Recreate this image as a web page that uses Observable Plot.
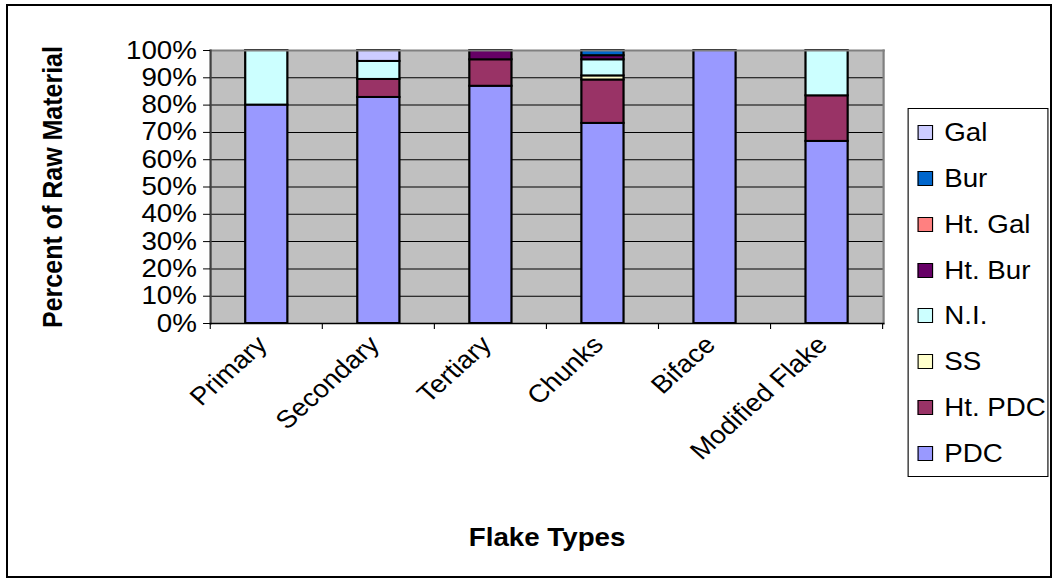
<!DOCTYPE html>
<html><head><meta charset="utf-8">
<script src="https://cdn.jsdelivr.net/npm/d3@7"></script>
<script src="https://cdn.jsdelivr.net/npm/@observablehq/plot@0.6"></script>
<style>
body{margin:0;background:#fff;}
#outer{position:relative;width:1054px;height:581px;overflow:hidden;background:#fff;}
#border{position:absolute;left:6px;top:4px;width:1046px;height:574px;border:2px solid #000;box-sizing:border-box;pointer-events:none;}
#inner{position:absolute;left:0;top:0;width:950px;height:581px;transform:scaleX(1.1095);transform-origin:0 0;font-family:"Liberation Sans",Arial,sans-serif;}
#legend{position:absolute;left:818px;top:108px;width:127px;height:369px;border:1px solid #000;box-sizing:border-box;background:#fff;}
.item{position:absolute;left:8px;height:26px;display:flex;align-items:center;font-size:25px;color:#000;white-space:nowrap;}
.sw{width:14px;height:15px;border:1.5px solid #000;box-sizing:border-box;margin-right:10px;flex:none;}
</style></head>
<body>
<div id="outer">
  <div id="inner"><div id="chart"></div><div id="legend"></div></div>
  <div id="border"></div>
</div>
<script>
// ---- data ----
const categories = ["Primary", "Secondary", "Tertiary", "Chunks", "Biface", "Modified Flake"];
const materials = ["PDC", "Ht. PDC", "SS", "N.I.", "Ht. Bur", "Ht. Gal", "Bur", "Gal"];
const colors = ["#9999FF", "#993366", "#FFFFCC", "#CCFFFF", "#660066", "#FF8080", "#0066CC", "#CCCCFF"];
const pdc   = [80, 82.8, 86.9, 73.3, 100, 66.7];
const htPdc = [0, 6.6, 9.7, 15.9, 0, 16.7];
const ss    = [0, 0, 0, 1.5, 0, 0];
const ni    = [20, 6.6, 0, 5.9, 0, 16.6];
const htBur = [0, 0, 3.4, 1.5, 0, 0];
const htGal = [0, 0, 0, 0, 0, 0];
const bur   = [0, 0, 0, 1.9, 0, 0];
const gal   = [0, 4.0, 0, 0, 0, 0];
const yTicks = [0, 10, 20, 30, 40, 50, 60, 70, 80, 90, 100];
const yTitle = "Percent of Raw Material";
const xTitle = "Flake Types";

const series = [pdc, htPdc, ss, ni, htBur, htGal, bur, gal];
const data = [];
materials.forEach((m, i) => categories.forEach((c, j) => {
  if (series[i][j] > 0) data.push({category: c, material: m, value: series[i][j]});
}));

const boundaryTicks = (index, scales, values, dims) => {
  const x = scales.x;
  const n = categories.length;
  const plotW = dims.width - dims.marginLeft - dims.marginRight;
  const step = typeof x.step === "function" ? x.step() : plotW / n;
  const bw = typeof x.bandwidth === "function" ? x.bandwidth() : 0;
  const pos = categories.map(c => x(c) + bw / 2 - step / 2);
  pos.push(x(categories[n - 1]) + bw / 2 + step / 2);
  const y0 = dims.height - dims.marginBottom;
  const g = d3.create("svg:g");
  g.selectAll("line").data(pos).join("line")
    .attr("x1", d => d).attr("x2", d => d)
    .attr("y1", y0).attr("y2", y0 + 6)
    .attr("stroke", "#000").attr("stroke-width", 1);
  return g.node();
};

const chart = Plot.plot({
  width: 950,
  height: 581,
  marginLeft: 189.3,
  marginRight: 154.1,
  marginTop: 50,
  marginBottom: 258,
  style: {fontFamily: '"Liberation Sans", Arial, sans-serif', fontSize: "25px", color: "#000", background: "transparent", overflow: "visible"},
  x: {domain: categories, paddingInner: 0.62, paddingOuter: 0.31, align: 0.5, label: null},
  y: {domain: [0, 100], label: null},
  color: {domain: materials, range: colors},
  marks: [
    Plot.frame({fill: "#C0C0C0", stroke: "none"}),
    Plot.ruleY(yTicks, {stroke: "#000", strokeWidth: 1}),
    Plot.barY(data, {x: "category", y: "value", fill: "material", stroke: "#000", strokeWidth: 2, order: materials}),
    Plot.frame({anchor: "top", stroke: "#808080", strokeWidth: 2}),
    Plot.frame({anchor: "right", stroke: "#808080", strokeWidth: 2}),
    Plot.frame({anchor: "left", stroke: "#404040", strokeWidth: 2}),
    Plot.frame({anchor: "bottom", stroke: "#000", strokeWidth: 1.5}),
    Plot.axisY({ticks: yTicks, tickFormat: d => d + "%", tickSize: 6.3, tickPadding: 6, fontSize: 25, label: null}),
    Plot.axisX({tickSize: 0, tickRotate: -45, tickPadding: 17, dx: -4, fontSize: 25, label: null}),
    boundaryTicks,
    Plot.text([yTitle], {frameAnchor: "left", dx: -141.5, rotate: -90, textAnchor: "middle", fontWeight: "bold", fontSize: 25, text: d => d}),
    Plot.text([xTitle], {frameAnchor: "bottom", dy: 222, textAnchor: "middle", fontWeight: "bold", fontSize: 25, text: d => d})
  ]
});
document.getElementById("chart").appendChild(chart);

// legend (top = last stacked series)
const legend = document.getElementById("legend");
const order = materials.map((m, i) => i).reverse();
order.forEach((i, k) => {
  const it = document.createElement("div");
  it.className = "item";
  it.style.top = (23.7 + k * 45.8 - 13) + "px";
  const sw = document.createElement("span");
  sw.className = "sw";
  sw.style.background = colors[i];
  const tx = document.createElement("span");
  tx.textContent = materials[i];
  it.appendChild(sw); it.appendChild(tx);
  legend.appendChild(it);
});
</script>
</body></html>
